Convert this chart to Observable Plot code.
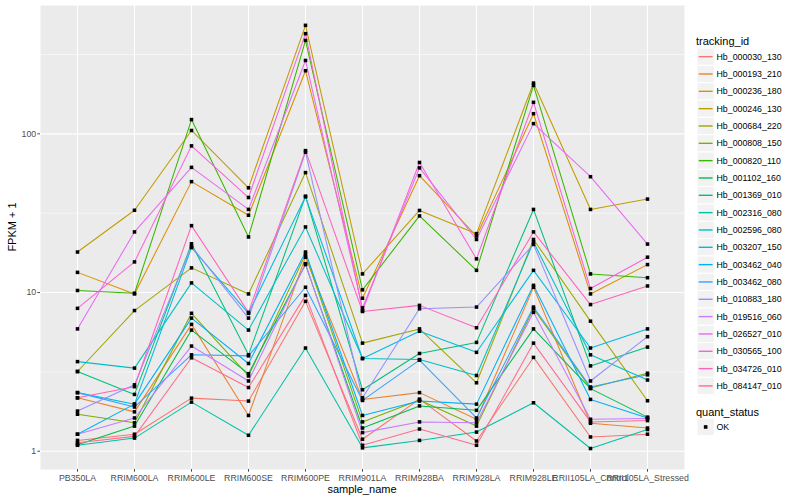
<!DOCTYPE html>
<html><head><meta charset="utf-8">
<script src="https://cdn.jsdelivr.net/npm/d3@7"></script>
<script src="https://cdn.jsdelivr.net/npm/@observablehq/plot@0.6"></script>
<style>
body{margin:0;background:#fff;font-family:"Liberation Sans",Arial,Helvetica,sans-serif;}
#wrap{position:relative;width:800px;height:500px;overflow:hidden;background:#fff;}
#wrap svg{position:absolute;left:0;top:0;}
.t{position:absolute;white-space:nowrap;color:#000;}
</style></head><body><div id="wrap"></div>
<script>
// x categories
const samples = ["PB350LA","RRIM600LA","RRIM600LE","RRIM600SE","RRIM600PE","RRIM901LA","RRIM928BA","RRIM928LA","RRIM928LE","RRII105LA_Control","RRII105LA_Stressed"];
// tracking ids (legend order)
const ids = ["Hb_000030_130","Hb_000193_210","Hb_000236_180","Hb_000246_130","Hb_000684_220","Hb_000808_150","Hb_000820_110","Hb_001102_160","Hb_001369_010","Hb_002316_080","Hb_002596_080","Hb_003207_150","Hb_003462_040","Hb_003462_080","Hb_010883_180","Hb_019516_060","Hb_026527_010","Hb_030565_100","Hb_034726_010","Hb_084147_010"];
// FPKM + 1 values per tracking id, in sample order
const Hb_000030_130 = [1.17, 1.28, 2.16, 2.07, 8.8, 1.19, 2.13, 1.16, 3.9, 1.23, 1.28];
const Hb_000193_210 = [2.17, 1.77, 6.3, 1.68, 16.7, 2.12, 2.34, 1.59, 10.8, 1.50, 1.40];
const Hb_000236_180 = [13.4, 9.8, 50, 30.7, 250, 9.2, 54.5, 22.7, 134, 9.8, 15.0];
const Hb_000246_130 = [18.0, 33.0, 105, 45.7, 483, 13.1, 32.9, 23.5, 209, 33.4, 38.8];
const Hb_000684_220 = [3.18, 7.7, 14.3, 9.8, 57, 4.8, 5.9, 2.7, 21.6, 6.6, 2.08];
const Hb_000808_150 = [1.71, 1.51, 7.4, 2.98, 17.4, 1.53, 2.10, 1.44, 7.9, 2.5, 3.1];
const Hb_000820_110 = [10.3, 9.9, 123, 22.4, 388, 10.4, 30.4, 13.8, 202, 13.1, 12.4];
const Hb_001102_160 = [1.10, 1.44, 5.8, 3.08, 15.0, 1.40, 1.93, 1.81, 5.9, 2.48, 1.64];
const Hb_001369_010 = [3.18, 2.28, 20.3, 4.05, 40.5, 2.44, 4.13, 4.85, 33.4, 3.45, 4.53];
const Hb_002316_080 = [1.09, 1.21, 2.04, 1.26, 4.47, 1.05, 1.17, 1.32, 2.02, 1.04, 1.37];
const Hb_002596_080 = [3.67, 3.34, 11.5, 5.8, 25.9, 3.84, 3.78, 3.0, 20.8, 4.05, 2.81];
const Hb_003207_150 = [2.34, 1.98, 19.2, 7.4, 40.1, 3.84, 5.7, 4.2, 13.8, 4.47, 5.9];
const Hb_003462_040 = [1.28, 1.98, 6.9, 3.57, 18.0, 1.68, 2.07, 1.98, 11.1, 2.12, 1.62];
const Hb_003462_080 = [2.34, 1.90, 4.05, 3.99, 10.8, 2.09, 3.75, 1.62, 8.1, 2.54, 3.03];
const Hb_010883_180 = [1.79, 2.62, 19.6, 6.9, 76.6, 2.17, 7.9, 8.1, 20.1, 2.77, 5.27];
const Hb_019516_060 = [1.28, 1.62, 4.6, 2.77, 15.2, 1.31, 1.53, 1.51, 7.5, 1.59, 1.61];
const Hb_026527_010 = [5.9, 24.1, 61.5, 33.4, 290, 8.0, 61, 21.6, 116, 53.7, 20.2];
const Hb_030565_100 = [7.95, 15.6, 84, 39.7, 428, 7.7, 66, 16.3, 158, 10.6, 16.7];
const Hb_034726_010 = [2.17, 2.55, 26.4, 7.5, 78.4, 7.6, 8.3, 6.0, 24.1, 8.4, 11.0];
const Hb_084147_010 = [1.13, 1.24, 3.88, 2.52, 9.6, 1.09, 1.38, 1.09, 4.8, 1.53, 1.56];
const yTicks = [1, 10, 100];
const yMinor = [3.1623, 31.623, 316.23];

const seriesValues = [Hb_000030_130,Hb_000193_210,Hb_000236_180,Hb_000246_130,Hb_000684_220,Hb_000808_150,Hb_000820_110,Hb_001102_160,Hb_001369_010,Hb_002316_080,Hb_002596_080,Hb_003207_150,Hb_003462_040,Hb_003462_080,Hb_010883_180,Hb_019516_060,Hb_026527_010,Hb_030565_100,Hb_034726_010,Hb_084147_010];
const colors = ["#F8766D","#EA8331","#D89000","#C09B00","#A3A500","#7CAE00","#39B600","#00BB4E","#00BF7D","#00C1A3","#00BFC4","#00BAE0","#00B0F6","#35A2FF","#9590FF","#C77CFF","#E76BF3","#FA62DB","#FF62BC","#FF6C91"];

const data = [];
ids.forEach((id, i) => seriesValues[i].forEach((v, j) => data.push({id, sample: samples[j], value: v, status: "OK"})));

const plot = Plot.plot({
  width: 800, height: 500,
  marginLeft: 40, marginRight: 116, marginTop: 5, marginBottom: 31,
  style: {fontFamily: "Liberation Sans, Arial, sans-serif", fontSize: "8.8px", background: "transparent"},
  x: {type: "point", domain: samples, padding: 0.6},
  y: {type: "log", domain: [0.767, 644]},
  color: {domain: ids, range: colors},
  marks: [
    Plot.frame({fill: "#EBEBEB", stroke: "none"}),
    Plot.ruleY(yMinor, {stroke: "white", strokeWidth: 0.55}),
    Plot.ruleY(yTicks, {stroke: "white", strokeWidth: 1.1}),
    Plot.ruleX(samples, {stroke: "white", strokeWidth: 1.1}),
    Plot.axisY({ticks: yTicks, tickFormat: d => String(d), tickSize: 2.7, tickPadding: 1.6, label: null, color: "#4D4D4D", fontSize: 8.8}),
    Plot.axisX({tickSize: 2.7, tickPadding: 2.2, label: null, color: "#4D4D4D", fontSize: 8.8}),
    Plot.line(data, {x: "sample", y: "value", z: "id", stroke: "id", strokeWidth: 1.05}),
    Plot.dot(data, {x: "sample", y: "value", symbol: "square", r: 2, fill: "black", stroke: "none"})
  ]
});
const wrap = document.getElementById("wrap");
wrap.appendChild(plot);

function addText(txt, left, top, size, extra) {
  const d = document.createElement("div");
  d.className = "t";
  d.textContent = txt;
  d.style.left = left + "px";
  d.style.top = top + "px";
  d.style.fontSize = size + "px";
  d.style.lineHeight = "1";
  if (extra) Object.assign(d.style, extra);
  wrap.appendChild(d);
  return d;
}
// axis titles
addText("sample_name", 362, 488.5, 11, {transform: "translate(-50%,-50%)"});
addText("FPKM + 1", 12, 227, 11, {transform: "translate(-50%,-50%) rotate(-90deg)"});

// legend: tracking_id
addText("tracking_id", 696, 40.7, 11, {transform: "translateY(-50%)"});
const keyTop = 48, keyH = 17.33, keyX = 697, keyW = 17.3;
const lg = d3.select(wrap).append("svg").attr("width", 800).attr("height", 500)
  .style("position", "absolute").style("left", 0).style("top", 0).style("pointer-events", "none");
ids.forEach((id, i) => {
  const y0 = keyTop + i * keyH;
  lg.append("rect").attr("x", keyX).attr("y", y0).attr("width", keyW).attr("height", keyH)
    .attr("fill", "#F2F2F2").attr("stroke", "white").attr("stroke-width", 1);
  lg.append("line").attr("x1", keyX + 1.7).attr("x2", keyX + keyW - 1.7)
    .attr("y1", y0 + keyH / 2).attr("y2", y0 + keyH / 2)
    .attr("stroke", colors[i]).attr("stroke-width", 1.4);
  addText(id, 716.5, y0 + keyH / 2, 8.8, {transform: "translateY(-50%)"});
});
// legend: quant_status
addText("quant_status", 696, 411.7, 11, {transform: "translateY(-50%)"});
const qy = 418.3;
lg.append("rect").attr("x", keyX).attr("y", qy).attr("width", keyW).attr("height", keyH)
  .attr("fill", "#F2F2F2").attr("stroke", "white").attr("stroke-width", 1);
lg.append("rect").attr("x", keyX + keyW / 2 - 1.8).attr("y", qy + keyH / 2 - 1.8).attr("width", 3.6).attr("height", 3.6).attr("fill", "black");
addText("OK", 716.5, qy + keyH / 2, 8.8, {transform: "translateY(-50%)"});
</script></body></html>
